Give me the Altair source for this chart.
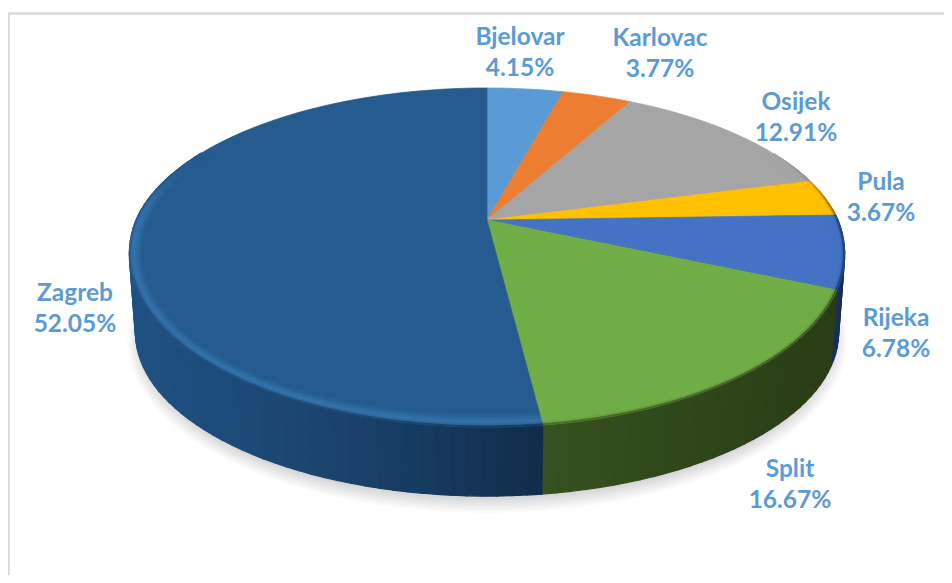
import numpy as np
import pandas as pd
import altair as alt

alt.data_transformers.disable_max_rows()

# ---- chart values
cities = ["Bjelovar", "Karlovac", "Osijek", "Pula", "Rijeka", "Split", "Zagreb"]
shares = [4.15, 3.77, 12.91, 3.67, 6.78, 16.67, 52.05]
top_colors = ["#5b9bd5", "#ed7d31", "#a5a5a5", "#ffc000", "#4472c4", "#70ad47", "#255b8e"]
label_color = "#5b9bd5"
label_x = [520, 660, 796, 881, 896, 790, 75]
label_y = [38, 39, 103, 183, 319, 470, 294]

# ---- view of the tilted disc
CX, CY = 487.0, 220.0
A, B, K = 351.0, 157.5, 0.1927
DEPTH = 81.0
BEVEL = 15.0


def hex2rgb(h):
    return np.array([int(h[i:i + 2], 16) for i in (1, 3, 5)], dtype=float)


def rgb2hex(c):
    c = np.clip(np.round(c), 0, 255).astype(int)
    return "#%02x%02x%02x" % tuple(c)


def mix(a, b, t):
    return a + (b - a) * t


def interp_color(stops, v):
    xs = [s[0] for s in stops]
    cols = np.array([hex2rgb(s[1]) for s in stops])
    return np.array([np.interp(v, xs, cols[:, i]) for i in range(3)])


def flat(th):
    X, Y = np.sin(th), np.cos(th)
    d = 1 + K * Y
    return CX + A * X / d, CY - B * Y / d, Y


def rim(th):
    x, y, Y = flat(th)
    return x, y + 12 * max(0.0, -Y), Y


def inward(x, y, dist):
    dx, dy = CX - x, CY - y
    n = np.hypot(dx, dy)
    return x + dx / n * dist, y + dy / n * dist


def base_pt(th):
    x, y, _ = flat(th)
    return CX + (x - CX) * 0.983, y + DEPTH


def smooth(a, b, v):
    t = np.clip((v - a) / (b - a), 0, 1)
    return t * t * (3 - 2 * t)


side_stops = {
    "Zagreb": [(135, "#1f5182"), (300, "#1b4671"), (420, "#173b61"), (540, "#122c4a")],
    "Split": [(540, "#37521f"), (650, "#304a1c"), (760, "#2c4218"), (840, "#2a3d17")],
    "Rijeka": [(830, "#1a3566"), (845, "#162c55")],
    "Pula": [(800, "#7a5c00"), (845, "#6a5000")],
    "Osijek": [(600, "#555555"), (845, "#505050")],
    "Karlovac": [(500, "#7a3f18"), (845, "#7a3f18")],
    "Bjelovar": [(480, "#2f5070"), (845, "#2f5070")],
}

poly_rows = {"shadow": [], "side": [], "top": [], "bevel": []}
_pid = [0]


def add(layer, pts, color):
    _pid[0] += 1
    for i, (x, y) in enumerate(list(pts) + [pts[0]]):
        poly_rows[layer].append({"x": x, "y": y, "id": _pid[0], "ord": i, "c": color})


# shadow
for e in range(-6, 10, 2):
    ts = np.radians(np.arange(0, 360, 3))
    add("shadow",
        [(487 + (352 + e) * np.sin(t), 340 + (165 + e) * np.cos(t)) for t in ts],
        "#000000")

# slices
edges = np.cumsum([0] + shares) / sum(shares) * 2 * np.pi
side_polys = []
for name, col, t0, t1 in zip(cities, top_colors, edges[:-1], edges[1:]):
    n = max(2, int(np.degrees(t1 - t0) / 2.0) + 1)
    ths = np.linspace(t0, t1, n)
    add("top", [(CX, CY)] + [rim(t)[:2] for t in ths], col)
    base = hex2rgb(col)
    for a, b in zip(ths[:-1], ths[1:]):
        mid = (a + b) / 2
        xm, ym, Ym = rim(mid)
        front = 1 - smooth(-0.05, 0.45, Ym)
        if front <= 0:
            continue
        sc = interp_color(side_stops[name], xm)
        # side wall strip
        pa, pb = rim(a)[:2], rim(b)[:2]
        side_polys.append((ym, [pa, pb, base_pt(b), base_pt(a)], rgb2hex(sc)))
        # rounded rim between the wall and the flat face
        tb = np.linspace(0, 1, 8)
        for u, v in zip(tb[:-1], tb[1:]):
            tm = (u + v) / 2
            c = base.copy()
            edge_weight = front
            if name == "Zagreb":
                c = mix(c, hex2rgb("#3472aa"),
                        (smooth(0.0, 0.25, tm) * (1 - smooth(0.3, 1.0, tm))) * front)
                edge_weight = front * smooth(-0.05, -0.4, Ym) if False else front * (1 - smooth(-0.45, -0.1, Ym))
            dark = (1 - smooth(0.0, 0.28, tm)) * 0.85 * edge_weight
            c = mix(c, sc, dark)
            q = [inward(*pa, u * BEVEL), inward(*pb, u * BEVEL),
                 inward(*pb, v * BEVEL), inward(*pa, v * BEVEL)]
            add("bevel", q, rgb2hex(c))

for _, pts, c in sorted(side_polys, key=lambda s: s[0]):
    add("side", pts, c)

x_enc = alt.X("x:Q", scale=alt.Scale(domain=[8, 944], nice=False, zero=False), axis=None)
y_enc = alt.Y("y:Q", scale=alt.Scale(domain=[8, 575], nice=False, zero=False, reverse=True), axis=None)


def poly_layer(name, opacity=1.0, stroke=True, sw=0.7):
    enc = dict(
        x=x_enc, y=y_enc,
        fill=alt.Fill("c:N", scale=None, legend=None),
        detail="id:N",
        order=alt.Order("ord:Q"),
    )
    if stroke:
        enc["stroke"] = alt.Stroke("c:N", scale=None, legend=None)
    return (
        alt.Chart(pd.DataFrame(poly_rows[name]))
        .mark_line(filled=True, opacity=opacity, strokeWidth=sw if stroke else 0,
                   interpolate="linear")
        .encode(**enc)
    )


frame = (
    alt.Chart(pd.DataFrame({"x": [8.6, 8.6, 944], "y": [575, 13.5, 13.5], "o": [0, 1, 2]}))
    .mark_line(color="#d9d9d9", strokeWidth=2.4, clip=True)
    .encode(x=x_enc, y=y_enc, order=alt.Order("o:Q"))
)

labels_df = pd.DataFrame({
    "x": label_x,
    "y": label_y,
    "t": [f"{c}\n{s:.2f}%" for c, s in zip(cities, shares)],
})
labels = (
    alt.Chart(labels_df)
    .mark_text(font="Lato", fontSize=24.5, fontWeight=700, color=label_color,
               lineBreak="\n", lineHeight=31, align="center", baseline="middle")
    .encode(x=x_enc, y=y_enc, text="t:N")
)

chart = (
    alt.layer(frame, poly_layer("shadow", 0.018, stroke=False), poly_layer("side", sw=1.2),
              poly_layer("top"), poly_layer("bevel"), labels)
    .properties(width=936, height=567, padding=0,
                autosize=alt.AutoSizeParams(type="none"), background="white")
    .configure_view(stroke=None)
)

chart.save("out.html", embed_options={"renderer": "svg", "actions": False})
